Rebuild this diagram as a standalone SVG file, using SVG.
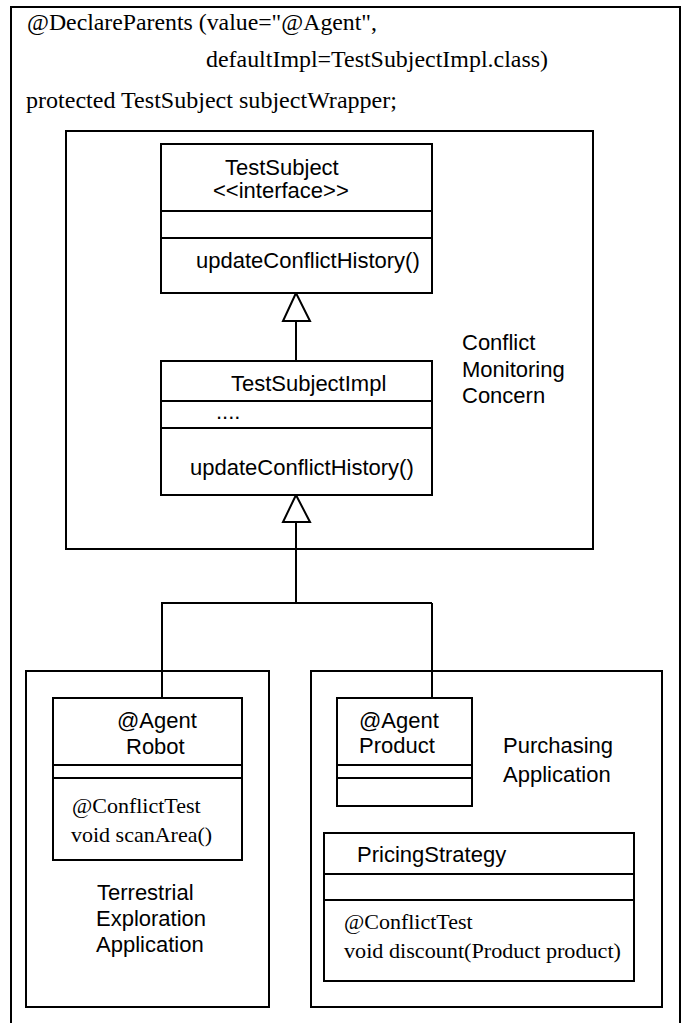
<svg xmlns="http://www.w3.org/2000/svg" width="686" height="1023" viewBox="0 0 686 1023">
<style>
.box{fill:#fff;stroke:#000;stroke-width:2}
.frame{fill:none;stroke:#000;stroke-width:2}
.ln{fill:none;stroke:#000;stroke-width:2}
.tri{fill:#fff;stroke:#000;stroke-width:2}
.s{font-family:"Liberation Sans",Arial,sans-serif;font-size:22px;fill:#000}
.t{font-family:"Liberation Serif","Times New Roman",serif;font-size:22px;fill:#000}
.h{font-family:"Liberation Serif","Times New Roman",serif;font-size:24px;fill:#000}
</style>
<rect x="0" y="0" width="686" height="1023" fill="#fff"/>
<g id="outer">
<path class="frame" d="M11,1030 V7 H680 V1030" stroke-width="2.5"/>
<text class="h" x="27" y="30" textLength="350" lengthAdjust="spacingAndGlyphs">@DeclareParents (value="@Agent",</text>
<text class="h" x="206" y="67" textLength="342" lengthAdjust="spacingAndGlyphs">defaultImpl=TestSubjectImpl.class)</text>
<text class="h" x="26" y="108" textLength="371" lengthAdjust="spacingAndGlyphs">protected TestSubject subjectWrapper;</text>
</g>
<g id="concern">
<rect class="frame" x="66" y="131" width="527" height="418"/>
<text class="s" x="462" y="350">Conflict</text>
<text class="s" x="462" y="377">Monitoring</text>
<text class="s" x="462" y="403">Concern</text>
</g>
<g id="terrestrial">
<rect class="frame" x="26" y="671" width="243" height="336"/>
<text class="s" x="97" y="900">Terrestrial</text>
<text class="s" x="96" y="926">Exploration</text>
<text class="s" x="96" y="952">Application</text>
</g>
<g id="purchasing">
<rect class="frame" x="311" y="671" width="351" height="336"/>
<text class="s" x="503" y="753">Purchasing</text>
<text class="s" x="503" y="782">Application</text>
</g>
<g id="connectors">
<path class="ln" d="M296,321 V361"/>
<polygon class="tri" points="296,293 283,321 310,321"/>
<path class="ln" d="M296,522 V603 M161,603 H432 M162,603 V698 M432,603 V698"/>
<polygon class="tri" points="296,495 283,522 310,522"/>
</g>
<g id="TestSubject">
<rect class="box" x="161" y="144" width="271" height="149"/>
<path class="ln" d="M161,211 H432 M161,238 H432"/>
<text class="s" x="225" y="175">TestSubject</text>
<text class="s" x="213" y="198">&lt;&lt;interface&gt;&gt;</text>
<text class="s" x="196" y="268">updateConflictHistory()</text>
</g>
<g id="TestSubjectImpl">
<rect class="box" x="161" y="361" width="271" height="134"/>
<path class="ln" d="M161,401 H432 M161,428 H432"/>
<text class="s" x="231" y="391">TestSubjectImpl</text>
<text class="s" x="216" y="419">....</text>
<text class="s" x="190" y="475">updateConflictHistory()</text>
</g>
<g id="Robot">
<rect class="box" x="53" y="698" width="189" height="162"/>
<path class="ln" d="M53,765 H242 M53,778 H242"/>
<text class="s" x="117" y="728">@Agent</text>
<text class="s" x="126" y="754">Robot</text>
<text class="t" x="72" y="813">@ConflictTest</text>
<text class="t" x="71" y="842">void scanArea()</text>
</g>
<g id="Product">
<rect class="box" x="337" y="698" width="135" height="108"/>
<path class="ln" d="M337,765 H472 M337,778 H472"/>
<text class="s" x="359" y="728">@Agent</text>
<text class="s" x="359" y="753">Product</text>
</g>
<g id="PricingStrategy">
<rect class="box" x="324" y="833" width="310" height="148"/>
<path class="ln" d="M324,874 H634 M324,900 H634"/>
<text class="s" x="357" y="862">PricingStrategy</text>
<text class="t" x="344" y="929">@ConflictTest</text>
<text class="t" x="344" y="958" textLength="277" lengthAdjust="spacingAndGlyphs">void discount(Product product)</text>
</g>
</svg>
